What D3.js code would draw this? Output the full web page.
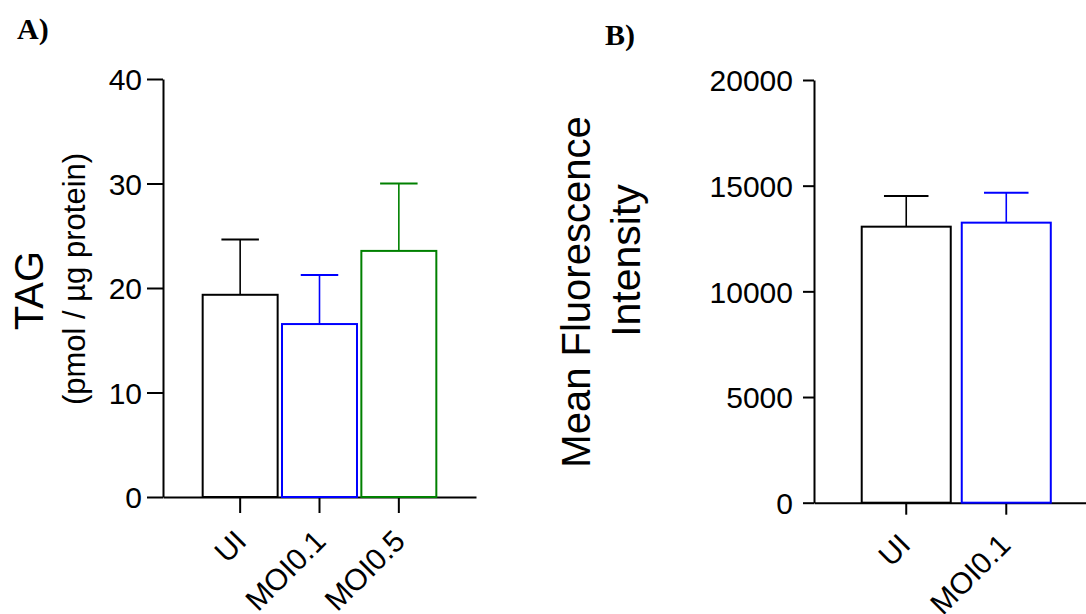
<!DOCTYPE html>
<html>
<head>
<meta charset="utf-8">
<script src="https://cdn.jsdelivr.net/npm/d3@7"></script>
<style>
  html, body { margin: 0; padding: 0; background: #fff; }
  svg { display: block; }
  text { font-family: "Liberation Sans", Arial, sans-serif; fill: #000; }
</style>
</head>
<body>
<svg id="fig" width="1086" height="614"></svg>
<script>
// Panel A: TAG content
const tagGroups = ["UI", "MOI0.1", "MOI0.5"];
const tagMean = [19.35, 16.55, 23.55];
const tagSD = [5.3, 4.7, 6.45];
const tagColors = ["#000000", "#0000ff", "#008000"];
const tagTicks = [0, 10, 20, 30, 40];

// Panel B: mean fluorescence intensity
const mfiGroups = ["UI", "MOI0.1"];
const mfiMean = [13060, 13250];
const mfiSD = [1455, 1420];
const mfiColors = ["#000000", "#0000ff"];
const mfiTicks = [0, 5000, 10000, 15000, 20000];

const svg = d3.select("#fig");

function panel(cfg) {
  const g = svg.append("g");
  const x = d3.scaleBand().domain(cfg.groups).range(cfg.xRange)
    .paddingInner(cfg.padIn).paddingOuter(cfg.padOut);
  const y = d3.scaleLinear().domain(cfg.yDomain).range(cfg.yRange);

  // y axis
  const ya = g.append("g").attr("transform", `translate(${cfg.xRange[0]},0)`)
    .call(d3.axisLeft(y).tickValues(cfg.ticks).tickSize(cfg.tickLen).tickSizeOuter(0)
      .tickPadding(cfg.yPad).tickFormat(d3.format("d")));
  ya.selectAll("path, line").attr("stroke", "#000").attr("stroke-width", 2);
  ya.selectAll("text").attr("font-size", 30).attr("dy", "0.36em")
    .attr("font-family", "Liberation Sans, Arial, sans-serif");

  // x axis
  const xa = g.append("g").attr("transform", `translate(0,${cfg.yRange[0]})`)
    .call(d3.axisBottom(x).tickSize(cfg.xTickLen).tickSizeOuter(0));
  xa.selectAll("path, line").attr("stroke", "#000").attr("stroke-width", 2);
  xa.selectAll("text")
    .attr("font-size", 30)
    .attr("font-family", "Liberation Sans, Arial, sans-serif")
    .attr("text-anchor", "end")
    .attr("x", 0).attr("y", 0).attr("dy", 0)
    .attr("transform", `translate(${cfg.labelOff[0]},${cfg.labelOff[1]}) rotate(-45)`);

  const data = cfg.groups.map((k, i) => ({ k, m: cfg.mean[i], s: cfg.sd[i], c: cfg.colors[i] }));
  const cap = x.bandwidth() / 2;

  // upward error bars
  const eb = g.append("g").selectAll("g").data(data).join("g");
  eb.append("line")
    .attr("x1", d => x(d.k) + x.bandwidth() / 2).attr("x2", d => x(d.k) + x.bandwidth() / 2)
    .attr("y1", d => y(d.m)).attr("y2", d => y(d.m + d.s))
    .attr("stroke", d => d.c).attr("stroke-width", 1.6);
  eb.append("line")
    .attr("x1", d => x(d.k) + x.bandwidth() / 2 - cap / 2)
    .attr("x2", d => x(d.k) + x.bandwidth() / 2 + cap / 2)
    .attr("y1", d => y(d.m + d.s)).attr("y2", d => y(d.m + d.s))
    .attr("stroke", d => d.c).attr("stroke-width", 2);

  // open bars
  g.append("g").selectAll("rect").data(data).join("rect")
    .attr("x", d => x(d.k)).attr("width", x.bandwidth())
    .attr("y", d => y(d.m)).attr("height", d => y(0) - y(d.m))
    .attr("fill", "none").attr("stroke", d => d.c).attr("stroke-width", 2);

  return g;
}

panel({
  groups: tagGroups, mean: tagMean, sd: tagSD, colors: tagColors, ticks: tagTicks,
  xRange: [163, 476], padIn: 0.055, padOut: 0.5,
  yDomain: [0, 40], yRange: [497, 79],
  tickLen: 16, yPad: 5, xTickLen: 16, labelOff: [8, 46]
});

panel({
  groups: mfiGroups, mean: mfiMean, sd: mfiSD, colors: mfiColors, ticks: mfiTicks,
  xRange: [814, 1098.5], padIn: 0.11, padOut: 0.477,
  yDomain: [0, 20000], yRange: [502.7, 80],
  tickLen: 11, yPad: 10, xTickLen: 12, labelOff: [6, 44]
});

// panel letters
svg.append("text").attr("x", 17).attr("y", 39)
  .style("font-family", "Liberation Serif, 'Times New Roman', serif")
  .attr("font-weight", "bold").attr("font-size", 30).text("A)");
svg.append("text").attr("x", 605).attr("y", 45)
  .style("font-family", "Liberation Serif, 'Times New Roman', serif")
  .attr("font-weight", "bold").attr("font-size", 30).text("B)");

// y-axis titles
svg.append("text").attr("transform", "translate(43,290.5) rotate(-90)")
  .attr("text-anchor", "middle").attr("font-size", 40).text("TAG");
svg.append("text").attr("transform", "translate(85,279) rotate(-90)")
  .attr("text-anchor", "middle").attr("font-size", 31).text("(pmol / µg protein)");
svg.append("text").attr("transform", "translate(590,292) rotate(-90)")
  .attr("text-anchor", "middle").attr("font-size", 40).text("Mean Fluorescence");
svg.append("text").attr("transform", "translate(640,260.5) rotate(-90)")
  .attr("text-anchor", "middle").attr("font-size", 41).text("Intensity");
</script>
</body>
</html>
